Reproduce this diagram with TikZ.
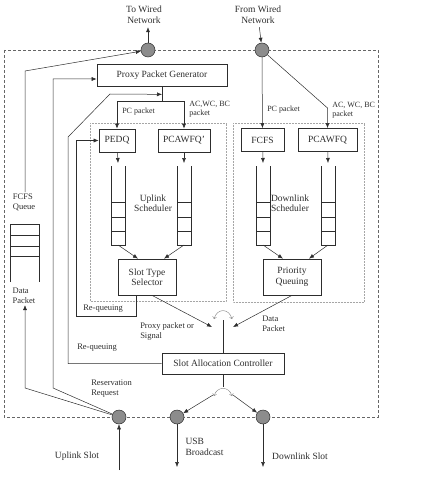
\documentclass[tikz,border=0pt]{standalone}
\usepackage{fontspec}
\setmainfont{Liberation Serif}
\usepackage{xcolor}
\definecolor{port_gray}{RGB}{140,140,140}
\definecolor{line_dark}{RGB}{45,45,45}
\usetikzlibrary{arrows.meta, positioning, calc}

\begin{document}
\begin{tikzpicture}[x=1pt, y=-1pt, font=\fontsize{9.5}{10.5}\selectfont,
    line_dark, text=line_dark, line width=0.5pt, >={Latex[length=5pt,width=4pt]},
    blk/.style={draw, line width=0.7pt, minimum height=22pt, inner sep=2pt, align=center},
    port/.style={circle, draw, fill=port_gray, minimum size=14pt, inner sep=0pt},
    lbl/.style={font=\fontsize{8}{9}\selectfont, align=left, inner sep=1pt},
    midlbl/.style={font=\fontsize{8.5}{10}\selectfont, align=left, inner sep=1pt},
    swarc/.style={gray, thin, {Straight Barb[length=2pt]}-{Straight Barb[length=2pt]}}]
  \useasboundingbox (0,0) rectangle (433,484);

  % outer and scheduler regions
  \draw[gray!80!black, dash pattern=on 3pt off 2pt] (4,50) rectangle (378,417);
  \draw[gray!70, densely dotted] (90,123) rectangle (226,301);
  \draw[gray!70, densely dotted] (233,123) rectangle (364,302);

  % ports
  \node[port] (toW) at (148,50) {};
  \node[port] (fromW) at (262,50) {};
  \node[port] (upS) at (119,417) {};
  \node[port] (usb) at (177,417) {};
  \node[port] (dnS) at (263,417) {};

  \node[align=center] (toWtxt) at (144,15) {To Wired\\Network};
  \node[align=center] (fromWtxt) at (258,15) {From Wired\\Network};
  \draw[->] (toW) -- (toW |- toWtxt.south);
  \draw[->] (fromWtxt) -- (fromW);

  % blocks
  \node[blk, minimum width=130pt] (ppg) at (162,75) {Proxy Packet Generator};
  \node[blk, minimum width=36pt, minimum height=23pt] (pedq) at (117,140.5) {PEDQ};
  \node[blk, minimum width=52pt, minimum height=23pt] (pcaU) at (184,140.5) {PCAWFQ\textquoteright};
  \node[blk, minimum width=43pt, minimum height=23pt] (fcfsD) at (262.5,140) {FCFS};
  \node[blk, minimum width=59pt, minimum height=23pt] (pcaD) at (327.5,140) {PCAWFQ};
  \node[blk, minimum width=58pt, minimum height=36pt] (sts) at (147,277) {Slot Type\\Selector};
  \node[blk, minimum width=58pt, minimum height=36pt] (pq) at (292,277) {Priority\\Queuing};
  \node[blk, minimum width=122pt, minimum height=21pt] (sac) at (223,363.5) {Slot Allocation Controller};

  \node[align=center] (upSch) at (153,203) {Uplink\\Scheduler};
  \node[align=center] (dnSch) at (290,203) {Downlink\\Scheduler};

  % queues
  \foreach \qx/\qn in {118/qa, 184/qb, 263/qc, 328/qd} {
    \draw ({\qx-7},166) -- ({\qx-7},245) -- ({\qx+7},245) -- ({\qx+7},166);
    \foreach \qy in {202,217,231}
      \draw ({\qx-7},\qy) -- ({\qx+7},\qy);
    \coordinate (\qn-top) at (\qx,163);
    \coordinate (\qn-bot) at (\qx,245);
  }
  % FCFS queue (left)
  \draw (10,282) -- (10,224) -- (39,224) -- (39,282);
  \foreach \qy in {235,246,256}
    \draw (10,\qy) -- (39,\qy);

  % uplink side
  \draw (ppg.south) -- ++(0,15) coordinate (split);
  \coordinate (mrg) at ($(ppg.south)+(0,8)$);
  \draw[->] (split) -| (pedq);
  \draw[->] (split) -| (pcaU);
  \node[lbl, anchor=west] (pcU) at (121,112) {PC packet};
  \node[lbl, anchor=north west] (acU) at (188,100) {AC,WC, BC\\packet};

  \draw[->] (pedq) -- (qa-top);
  \draw[->] (pcaU) -- (qb-top);
  \draw[->] (qa-bot) -- ([xshift=-9pt]sts.north);
  \draw[->] (qb-bot) -- ([xshift=17pt]sts.north);

  % downlink side
  \draw[->] (fromW) -- (fcfsD);
  \draw[->] (fromW) -- (327.5,108) -- (pcaD);
  \node[lbl, anchor=west] (pcD) at (266,110) {PC packet};
  \node[lbl, anchor=north west] (acD) at (331,101) {AC, WC, BC\\packet};

  \draw[->] (fcfsD) -- (qc-top);
  \draw[->] (pcaD) -- (qd-top);
  \draw[->] (qc-bot) -- ([xshift=-9pt]pq.north);
  \draw[->] (qd-bot) -- ([xshift=17pt]pq.north);

  % re-queuing loops
  \draw[->] ([xshift=-11pt]sts.south) |- (76,316) |- (pedq.west);
  \node[midlbl, anchor=west] (rq1) at (82,309) {Re-queuing};
  \draw[->] (sac.west) -| (68,137) -- (110,94) -- (mrg);
  \node[midlbl, anchor=west] (rq2) at (76,348) {Re-queuing};

  % upper switch
  \coordinate (sw1l) at (212,327);
  \coordinate (sw1r) at (233,327);
  \coordinate (sw1) at (223,320);
  \draw[->] ([xshift=5pt]sts.south) -- (sw1l);
  \draw[->] (pq.south) -- (sw1r);
  \draw (sw1) -- (sac.north);
  \draw[swarc] (214,319) .. controls (217,308) and (229,308) .. (232,319);
  \node[midlbl, anchor=west] (prx) at (139,331.5) {Proxy packet or\\Signal};
  \node[midlbl, anchor=west] (dpk) at (261,323.5) {Data\\Packet};

  % lower switch
  \coordinate (sw2) at (223,387);
  \coordinate (sw2l) at (213,395);
  \coordinate (sw2r) at (233,395);
  \draw (sac.south) -- (sw2);
  \draw[swarc] (214,396) .. controls (217,386) and (229,386) .. (232,396);
  \draw[->] (sw2l) -- (usb);
  \draw[->] (sw2r) -- (dnS);

  % left side
  \node[midlbl, align=left] (fcfsTxt) at (24,202) {FCFS\\Queue};
  \node[midlbl, align=left] (dataTxt) at (24,296) {Data\\Packet};
  \draw[->] (fcfsTxt.north -| 25,0) -- (25,71) -- (toW);
  \draw[->] (upS) -- (25,388) -- (dataTxt.south -| 25,0);
  \draw[->] (upS) -- (53,388) -- (53,79) -- ($(ppg.west)+(0,4)$);
  \node[midlbl, anchor=west] (resv) at (90,389) {Reservation\\Request};

  % slots
  \coordinate (upIn) at (119,470);
  \coordinate (usbOut) at (177,467);
  \coordinate (dnOut) at (263,467);
  \draw[->] (upIn) -- (upS);
  \draw[->] (usb) -- (usbOut);
  \draw[->] (dnS) -- (dnOut);
  \node (upTxt) at (77,456) {Uplink Slot};
  \node[align=left, anchor=west] (usbTxt) at (182,447) {USB\\Broadcast};
  \node (dnTxt) at (300,456) {Downlink Slot};
\end{tikzpicture}
\end{document}
